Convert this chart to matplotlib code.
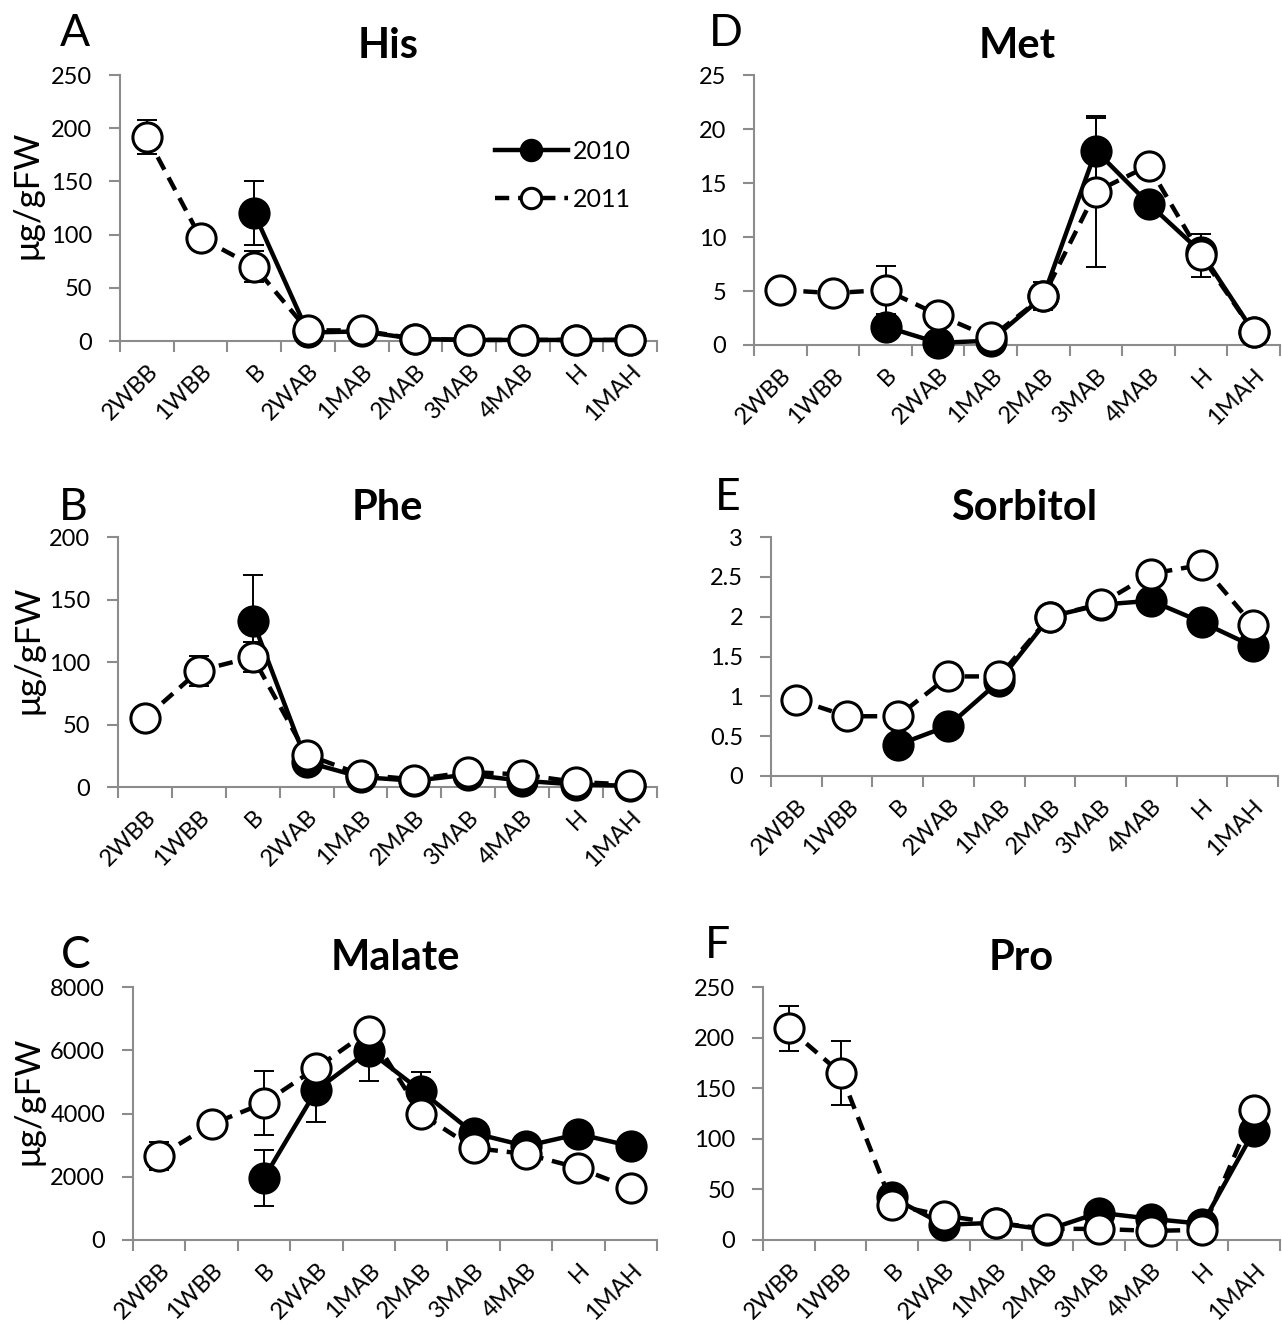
import numpy as np
import matplotlib
matplotlib.use("Agg")
import matplotlib.pyplot as plt
from matplotlib.transforms import ScaledTranslation

plt.rcParams['font.family'] = ['Lato', 'DejaVu Sans']

stages = ["2WBB", "1WBB", "B", "2WAB", "1MAB", "2MAB", "3MAB", "4MAB", "H", "1MAH"]
nan = np.nan

# ====== DATA ======
his_2010 = [nan, nan, 120, 8, 9, 2, 1, 1, 1, 1]
his_2010_err = [0, 0, 30, 0, 0, 0, 0, 0, 0, 0]
his_2011 = [192, 97, 70, 10, 10, 2, 1, 1, 1, 1]
his_2011_err = [16, 0, 15, 0, 0, 0, 0, 0, 0, 0]

phe_2010 = [nan, nan, 133, 20, 8, 5, 10, 5, 2, 1]
phe_2010_err = [0, 0, 37, 0, 0, 0, 0, 0, 0, 0]
phe_2011 = [55, 93, 104, 26, 10, 6, 12, 10, 4, 2]
phe_2011_err = [0, 12, 12, 0, 0, 0, 0, 0, 0, 0]

mal_2010 = [nan, nan, 1960, 4740, 5980, 4710, 3380, 2970, 3350, 2970]
mal_2010_err = [0, 0, 900, 1000, 950, 600, 0, 0, 350, 0]
mal_2011 = [2650, 3660, 4330, 5440, 6610, 3980, 2910, 2720, 2280, 1640]
mal_2011_err = [450, 0, 1000, 0, 0, 0, 0, 0, 0, 0]

met_2010 = [nan, nan, 1.7, 0.2, 0.4, 4.5, 18.0, 13.1, 8.6, 1.2]
met_2010_err = [0, 0, 0, 0, 0, 0, 3.0, 0, 0, 0]
met_2011 = [5.1, 4.8, 5.1, 2.8, 0.7, 4.5, 14.2, 16.6, 8.3, 1.2]
met_2011_err = [0, 0, 2.2, 0, 0, 1.3, 7.0, 0, 2.0, 0]

sor_2010 = [nan, nan, 0.39, 0.63, 1.19, 2.0, 2.15, 2.2, 1.93, 1.63]
sor_2010_err = [0, 0, 0, 0, 0, 0, 0, 0, 0, 0.12]
sor_2011 = [0.96, 0.75, 0.75, 1.25, 1.25, 2.0, 2.16, 2.54, 2.65, 1.9]
sor_2011_err = [0, 0, 0, 0, 0, 0, 0, 0.12, 0, 0]

pro_2010 = [nan, nan, 42, 15, 17, 10, 27, 21, 16, 108]
pro_2010_err = [0, 0, 0, 0, 0, 0, 0, 0, 0, 0]
pro_2011 = [209, 165, 35, 24, 17, 11, 11, 9, 10, 128]
pro_2011_err = [22, 32, 0, 0, 0, 0, 0, 0, 0, 0]

# rozmisteni panelu v pixelech: levy okraj, spodni okraj, sirka, vyska
panels = [
    ("A", "His", his_2010, his_2010_err, his_2011, his_2011_err, 250, 50, True,
     (120, 341, 537, 266), (60, 34)),
    ("B", "Phe", phe_2010, phe_2010_err, phe_2011, phe_2011_err, 200, 50, True,
     (118, 787, 539, 250), (59, 508)),
    ("C", "Malate", mal_2010, mal_2010_err, mal_2011, mal_2011_err, 8000, 2000, True,
     (133, 1240, 524, 253), (61, 955)),
    ("D", "Met", met_2010, met_2010_err, met_2011, met_2011_err, 25, 5, False,
     (754, 345, 526, 270), (709, 34)),
    ("E", "Sorbitol", sor_2010, sor_2010_err, sor_2011, sor_2011_err, 3, 0.5, False,
     (771, 776, 507, 239), (715, 498)),
    ("F", "Pro", pro_2010, pro_2010_err, pro_2011, pro_2011_err, 250, 50, False,
     (763, 1240, 517, 253), (705, 945)),
]

W, H = 1282, 1325
fig = plt.figure(figsize=(W / 100, H / 100), dpi=100)
x = np.arange(len(stages))
osa = "#8c8c8c"
posun = ScaledTranslation(9 / 100, 0, fig.dpi_scale_trans)

for (pismeno, nazev, y10, e10, y11, e11, ymax, krok, ylab, box, lpos) in panels:
    l, b, w, h = box
    ax = fig.add_axes([l / W, 1 - b / H, w / W, h / H])
    e10 = np.array(e10, dtype=float)
    e11 = np.array(e11, dtype=float)
    e10[e10 == 0] = nan
    e11[e11 == 0] = nan
    ax.errorbar(x, y10, yerr=e10, fmt="none", ecolor="black", elinewidth=1.4,
                capsize=7, capthick=1.4, zorder=2)
    ax.errorbar(x, y11, yerr=e11, fmt="none", ecolor="black", elinewidth=1.4,
                capsize=7, capthick=1.4, zorder=2)
    ax.plot(x, y10, "-", color="black", lw=3.2, marker="o", ms=21,
            mfc="black", mec="black", mew=2.2, label="2010", zorder=3)
    ax.plot(x, y11, "--", color="black", lw=3.2, dashes=(3.2, 2.0), marker="o",
            ms=21, mfc="white", mec="black", mew=2.2, label="2011", zorder=4)

    ax.set_xlim(-0.5, 9.5)
    ax.set_ylim(0, ymax)
    ax.set_yticks(np.arange(0, ymax + krok / 2, krok))
    ax.set_yticklabels([("%g" % v) for v in np.arange(0, ymax + krok / 2, krok)])
    ax.set_xticks(x)
    ax.set_xticklabels(stages, rotation=45, ha="right", rotation_mode="anchor",
                       fontsize=17)
    for t in ax.get_xticklabels():
        t.set_transform(t.get_transform() + posun)
    ax.set_xticks(np.arange(-0.5, 10, 1), minor=True)
    ax.tick_params(axis="x", which="major", length=0, pad=14)
    ax.tick_params(axis="x", which="minor", length=8, width=1.5, color=osa,
                   direction="out")
    ax.tick_params(axis="y", length=8, width=1.5, color=osa, labelsize=17, pad=12)
    for s in ["top", "right"]:
        ax.spines[s].set_visible(False)
    for s in ["left", "bottom"]:
        ax.spines[s].set_color(osa)
        ax.spines[s].set_linewidth(1.5)
    ax.set_title(nazev, fontsize=30, fontweight="bold", pad=12)
    if ylab:
        ax.set_ylabel("μg/gFW", fontsize=25)
        ax.yaxis.set_label_coords((44 - l) / w, 0.55)
    for bod in ax.lines:
        bod.set_clip_on(False)
    fig.text(lpos[0] / W, 1 - lpos[1] / H, pismeno, fontsize=32,
             ha="left", va="center")

    if pismeno == "A":
        ax.legend(loc="upper left", bbox_to_anchor=((495 - l) / w, 0.755),
                  frameon=False, borderpad=0, borderaxespad=0,
                  fontsize=18, handlelength=2.9, handletextpad=0.2,
                  labelspacing=1.0, markerscale=0.7)

fig.savefig("out.png", dpi=100)
